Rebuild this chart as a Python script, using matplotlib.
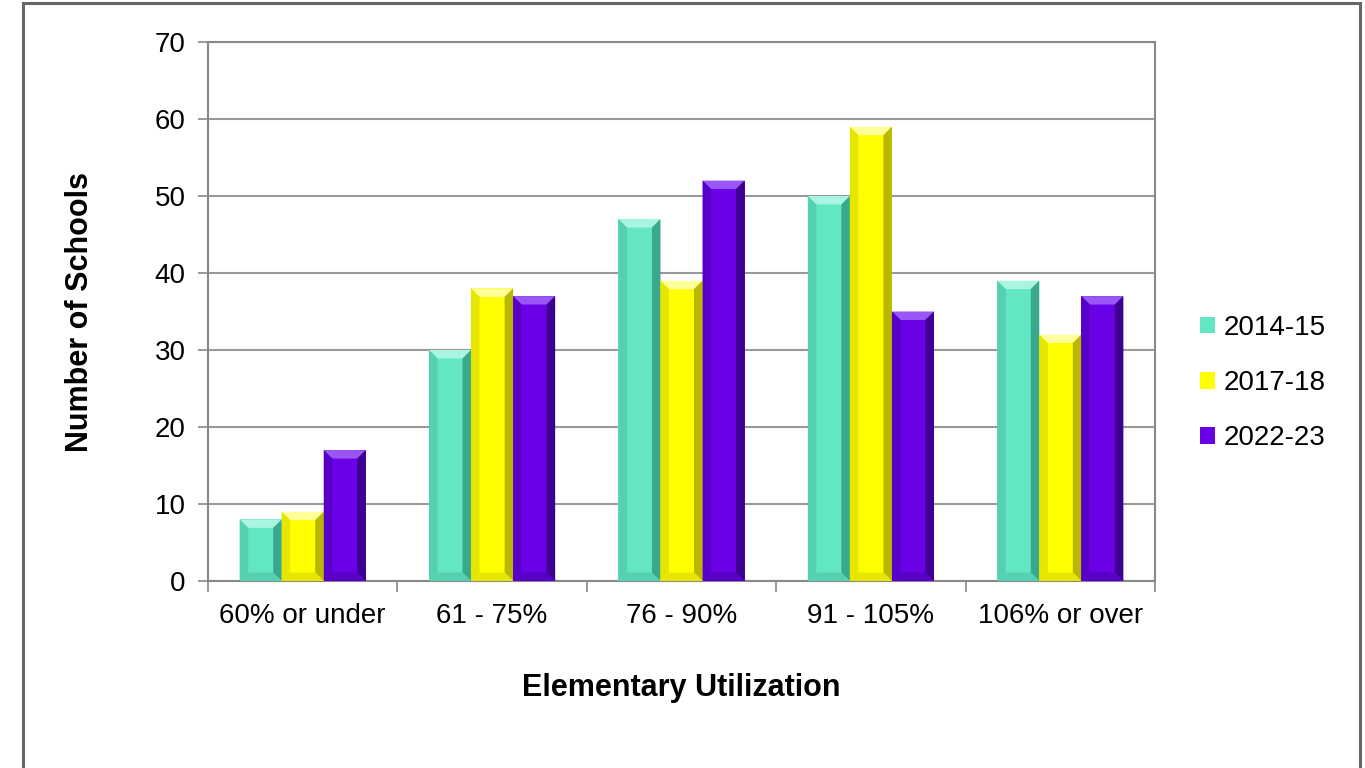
import matplotlib
matplotlib.use("Agg")
import matplotlib.pyplot as plt
from matplotlib.patches import Polygon, Rectangle
import numpy as np

categories = ["60% or under", "61 - 75%", "76 - 90%", "91 - 105%", "106% or over"]
series_names = ["2014-15", "2017-18", "2022-23"]
values_2014 = [8, 30, 47, 50, 39]
values_2017 = [9, 38, 39, 59, 32]
values_2022 = [17, 37, 52, 35, 37]
yticks = [0, 10, 20, 30, 40, 50, 60, 70]

colors = ["#62E6C4", "#FFFF00", "#6A00E6"]
light = ["#A8F5E2", "#FFFF99", "#9A55F5"]
dark = ["#3AA88C", "#B8B800", "#3E0090"]
mid = ["#55D0B0", "#E6E600", "#5800C8"]

plt.rcParams['font.family'] = ['Liberation Sans', 'DejaVu Sans']

fig = plt.figure(figsize=(13.65, 7.68), dpi=100)
W, H = 1365, 768
ax = fig.add_axes([208 / W, 1 - 581 / H, (1155 - 208) / W, (581 - 42) / H])

x = np.arange(len(categories))
bw = 0.222
offsets = [-bw, 0, bw]
all_vals = [values_2014, values_2017, values_2022]

# bevel depth in data units
dx = 0.045
dy = 1.1

handles = []
for i, vals in enumerate(all_vals):
    bars = ax.bar(x + offsets[i], vals, width=bw, color=colors[i], edgecolor='none',
                  label=series_names[i], zorder=3)
    handles.append(bars)
    for b in bars:
        x0 = b.get_x(); x1 = x0 + b.get_width()
        y0 = 0; y1 = b.get_height()
        ddy = min(dy, y1 / 2)
        # top
        ax.add_patch(Polygon([[x0, y1], [x1, y1], [x1 - dx, y1 - ddy], [x0 + dx, y1 - ddy]],
                             closed=True, color=light[i], lw=0, zorder=4))
        # right
        ax.add_patch(Polygon([[x1, y1], [x1, y0], [x1 - dx, y0 + ddy], [x1 - dx, y1 - ddy]],
                             closed=True, color=dark[i], lw=0, zorder=4))
        # bottom
        ax.add_patch(Polygon([[x0, y0], [x1, y0], [x1 - dx, y0 + ddy], [x0 + dx, y0 + ddy]],
                             closed=True, color=mid[i], lw=0, zorder=4))
        # left
        ax.add_patch(Polygon([[x0, y0], [x0, y1], [x0 + dx, y1 - ddy], [x0 + dx, y0 + ddy]],
                             closed=True, color=mid[i], lw=0, zorder=4))

ax.set_xlim(-0.5, len(categories) - 0.5)
ax.set_ylim(0, 70)
ax.set_yticks(yticks)
ax.set_yticklabels([str(t) for t in yticks], fontsize=20)
ax.set_xticks(x)
ax.set_xticklabels(categories, fontsize=20)
ax.set_xticks(np.arange(-0.5, len(categories), 1.0), minor=True)
ax.tick_params(axis='x', which='major', length=0, pad=16)
ax.tick_params(axis='x', which='minor', length=8, width=1.2, color='#888888')
ax.tick_params(axis='y', which='major', length=7, width=1.2, color='#888888', pad=9)

ax.yaxis.grid(True, color='#999999', lw=1.5, zorder=0)
ax.set_axisbelow(True)
for s in ax.spines.values():
    s.set_color('#888888')
    s.set_linewidth(1.5)

ax.set_ylabel("Number of Schools", fontsize=22, fontweight='bold')
ax.yaxis.set_label_coords((80 - 208) / (1155 - 208), 0.5)
ax.set_xlabel("Elementary Utilization", fontsize=22, fontweight='bold')
ax.xaxis.set_label_coords(0.5, -(688 - 581) / (581 - 42))
ax.xaxis.label.set_va('center')
ax.yaxis.label.set_va('center')

ax.legend(handles=handles, labels=series_names, loc='center left',
          bbox_to_anchor=(1175 / W, 1 - 383 / H), bbox_transform=fig.transFigure,
          frameon=False, fontsize=20, handlelength=0.55, handleheight=0.55,
          handletextpad=0.3, labelspacing=1.05)

fig.patches.append(Rectangle((23 / W, -0.05), (1360 - 23) / W, 1.05 - 3 / H,
                             transform=fig.transFigure, fill=False,
                             edgecolor='#666666', lw=2.2))

fig.savefig("out.png", dpi=100)
